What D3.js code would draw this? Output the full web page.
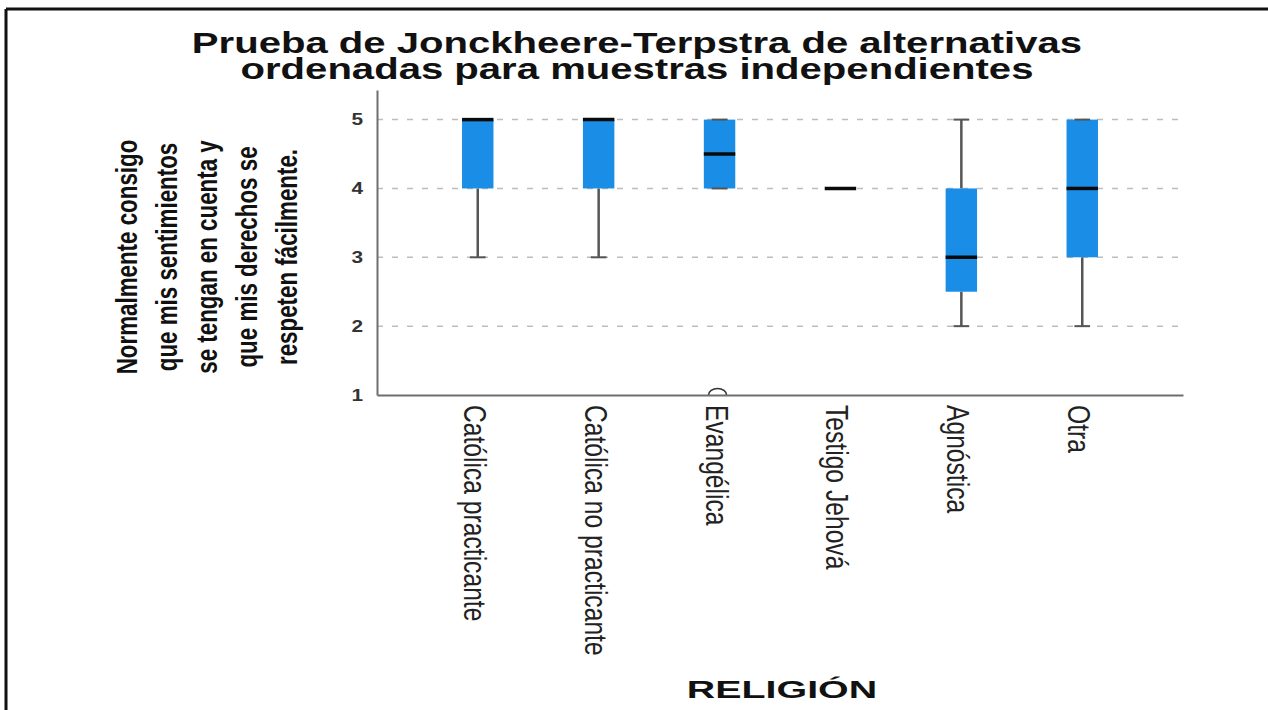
<!DOCTYPE html>
<html>
<head>
<meta charset="utf-8">
<script src="https://cdn.jsdelivr.net/npm/d3@7"></script>
<style>
  body { margin: 0; background: #fff; }
  svg { display: block; }
</style>
</head>
<body>
<svg id="chart" width="1268" height="710"></svg>
<script>
// Box-plot summary per religion group
const categories = ["Católica practicante", "Católica no practicante", "Evangélica", "Testigo Jehová", "Agnóstica", "Otra"];
const whiskerLow  = [3, 3, 4, 4, 2, 2];
const quartile1   = [4, 4, 4, 4, 2.5, 3];
const medians     = [5, 5, 4.5, 4, 3, 4];
const quartile3   = [5, 5, 5, 4, 4, 5];
const whiskerHigh = [5, 5, 5, 4, 5, 5];
const outlierCategories = ["Evangélica"];
const outlierValues     = [1];
const yTicks = [1, 2, 3, 4, 5];
const titleLines  = ["Prueba de Jonckheere-Terpstra de alternativas", "ordenadas para muestras independientes"];
const yTitleLines = ["Normalmente consigo", "que mis sentimientos", "se tengan en cuenta y", "que mis derechos se", "respeten fácilmente."];
const xTitle = "RELIGIÓN";

const FONT = "'Liberation Sans', Arial, Helvetica, sans-serif";
const svg = d3.select("#chart");

// plot frame
const plot = { left: 377, right: 1183, top: 90, bottom: 395 };

const x = d3.scaleBand()
  .domain(categories)
  .range([plot.left, plot.right])
  .paddingInner(0)
  .paddingOuter(1 / 3);

const y = d3.scaleLinear()
  .domain([1, 5.43])
  .range([plot.bottom, plot.top]);

const boxW = x.bandwidth() * 0.26;
const capW = x.bandwidth() * 0.13;

// stretch/squash text along its reading direction
function fitText(sel, factor) {
  sel.each(function () {
    const len = this.getComputedTextLength();
    d3.select(this).attr("textLength", len * factor).attr("lengthAdjust", "spacingAndGlyphs");
  });
}

// outer border (top and left)
svg.append("line").attr("x1", 6).attr("x2", 1268).attr("y1", 9).attr("y2", 9)
  .attr("stroke", "#111").attr("stroke-width", 3);
svg.append("line").attr("x1", 6).attr("x2", 6).attr("y1", 9).attr("y2", 710)
  .attr("stroke", "#111").attr("stroke-width", 3);

// title
svg.append("g").selectAll("text").data(titleLines).join("text")
  .attr("x", 637)
  .attr("y", (d, i) => 53 + i * 25.5)
  .attr("text-anchor", "middle")
  .attr("font-family", FONT)
  .attr("font-weight", "bold")
  .attr("font-size", 29)
  .attr("fill", "#111")
  .text(d => d)
  .call(fitText, 1.382);

// horizontal dashed grid
svg.append("g").selectAll("line").data(yTicks.filter(t => t > 1)).join("line")
  .attr("x1", plot.left).attr("x2", plot.right)
  .attr("y1", d => y(d)).attr("y2", d => y(d))
  .attr("stroke", "#bdbdbd").attr("stroke-width", 1.5)
  .attr("stroke-dasharray", "6,9");

const stats = categories.map((c, i) => ({
  cat: c, lo: whiskerLow[i], q1: quartile1[i], med: medians[i], q3: quartile3[i], hi: whiskerHigh[i]
}));

const boxes = svg.append("g").selectAll("g").data(stats).join("g")
  .attr("transform", d => `translate(${x(d.cat) + x.bandwidth() / 2},0)`);

// whisker stems
boxes.filter(d => d.lo < d.q1).append("line")
  .attr("x1", 0).attr("x2", 0).attr("y1", d => y(d.lo)).attr("y2", d => y(d.q1))
  .attr("stroke", "#555").attr("stroke-width", 2.5);
boxes.filter(d => d.hi > d.q3).append("line")
  .attr("x1", 0).attr("x2", 0).attr("y1", d => y(d.q3)).attr("y2", d => y(d.hi))
  .attr("stroke", "#555").attr("stroke-width", 2.5);

// boxes
boxes.filter(d => d.q3 > d.q1).append("rect")
  .attr("x", -boxW / 2).attr("width", boxW)
  .attr("y", d => y(d.q3)).attr("height", d => y(d.q1) - y(d.q3))
  .attr("fill", "#1a8ee6");

// whisker caps
boxes.filter(d => d.hi > d.lo).selectAll("line.cap")
  .data(d => [d.lo, d.hi]).join("line").attr("class", "cap")
  .attr("x1", -capW / 2).attr("x2", capW / 2)
  .attr("y1", v => y(v)).attr("y2", v => y(v))
  .attr("stroke", "#555").attr("stroke-width", 2);

// medians
boxes.append("line")
  .attr("x1", -boxW / 2).attr("x2", boxW / 2)
  .attr("y1", d => y(d.med)).attr("y2", d => y(d.med))
  .attr("stroke", "#0a0a0a").attr("stroke-width", 3.5);

// outliers (markers clipped at the category axis)
svg.append("clipPath").attr("id", "plotClip")
  .append("rect").attr("x", plot.left).attr("y", 0)
  .attr("width", plot.right - plot.left).attr("height", plot.bottom + 1);
svg.append("g").attr("clip-path", "url(#plotClip)")
  .selectAll("ellipse").data(outlierValues).join("ellipse")
  .attr("cx", (d, i) => x(outlierCategories[i]) + x.bandwidth() / 2 - 2)
  .attr("cy", d => y(d))
  .attr("rx", 9).attr("ry", 6.5)
  .attr("fill", "none").attr("stroke", "#333").attr("stroke-width", 1.6);

// y axis
const yAxis = svg.append("g")
  .attr("transform", `translate(${plot.left},0)`)
  .call(d3.axisLeft(y).tickValues(yTicks).tickSize(0).tickPadding(14).tickFormat(d3.format("d")));
yAxis.select(".domain").attr("stroke", "#6e6e6e").attr("stroke-width", 2);
yAxis.selectAll("text")
  .attr("font-family", FONT).attr("font-size", 16).attr("font-weight", "bold")
  .attr("fill", "#333")
  .call(fitText, 1.3);

// x axis
const xAxis = svg.append("g")
  .attr("transform", `translate(0,${plot.bottom})`)
  .call(d3.axisBottom(x).tickSize(0));
xAxis.select(".domain").attr("stroke", "#6e6e6e").attr("stroke-width", 2);
xAxis.selectAll(".tick text")
  .attr("font-family", FONT).attr("font-size", 32).attr("fill", "#222")
  .attr("text-anchor", "start")
  .attr("dy", null)
  .attr("y", null)
  .attr("transform", "translate(-14,10) rotate(90)")
  .call(fitText, 0.77);

// y axis title
svg.append("g").selectAll("text").data(yTitleLines).join("text")
  .attr("transform", (d, i) => `translate(${137 + i * 40},257) rotate(-90)`)
  .attr("text-anchor", "middle")
  .attr("font-family", FONT).attr("font-weight", "bold").attr("font-size", 30)
  .attr("fill", "#111")
  .text(d => d)
  .call(fitText, 0.745);

// x axis title
svg.append("text")
  .attr("x", 782).attr("y", 698)
  .attr("text-anchor", "middle")
  .attr("font-family", FONT).attr("font-weight", "bold").attr("font-size", 24)
  .attr("fill", "#111")
  .text(xTitle)
  .call(fitText, 1.64);
</script>
</body>
</html>
